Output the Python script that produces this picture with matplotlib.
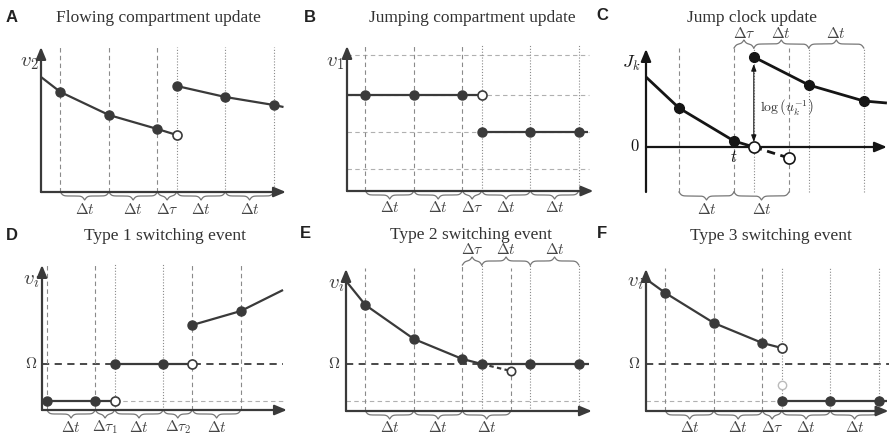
import numpy as np
import matplotlib.pyplot as plt

# ---- data (time in units of the step size, values in arbitrary units) ----
# A: flowing compartment update
A_t_before = [0.0, 0.4, 1.4, 2.4, 2.8]
A_v_before = [1.15, 1.00, 0.77, 0.63, 0.57]
A_t_after = [2.8, 3.8, 4.8, 5.0]
A_v_after = [1.06, 0.95, 0.87, 0.85]
A_dashed = [0.4, 1.4, 2.4]
A_dotted = [2.8, 3.8, 4.8]
A_steps = [0.4, 1.4, 2.4, 2.8, 3.8, 4.8]
A_labels = [r'$\Delta t$', r'$\Delta t$', r'$\Delta\tau$', r'$\Delta t$', r'$\Delta t$']

# B: jumping compartment update
B_t_before = [0.0, 0.38, 1.38, 2.38, 2.78]
B_v_before = [0.96, 0.96, 0.96, 0.96, 0.96]
B_t_after = [2.78, 3.78, 4.78, 4.97]
B_v_after = [0.59, 0.59, 0.59, 0.59]
B_levels = [1.36, 0.96, 0.59, 0.22]
B_dashed = [0.38, 1.38, 2.38]
B_dotted = [2.78, 3.78, 4.78]
B_steps = [0.38, 1.38, 2.38, 2.78, 3.78, 4.78]
B_labels = A_labels

# C: jump clock update
C_t_before = [0.0, 0.6, 1.6, 1.96]
C_v_before = [0.70, 0.39, 0.06, 0.0]
C_t_over = [1.96, 2.6]
C_v_over = [0.0, -0.11]
C_t_after = [1.96, 2.96, 3.96, 4.38]
C_v_after = [0.90, 0.62, 0.46, 0.44]
C_dashed = [0.6, 1.6, 2.6]
C_dotted = [1.96, 2.96, 3.96]
C_steps_low = [0.6, 1.6, 2.6]
C_labels_low = [r'$\Delta t$', r'$\Delta t$']
C_steps_top = [1.6, 1.96, 2.96, 3.96]
C_labels_top = [r'$\Delta\tau$', r'$\Delta t$', r'$\Delta t$']

# D: type 1 switching event
D_omega = 0.46
D_t_low = [0.1, 1.1, 1.5]
D_v_low = [0.09, 0.09, 0.09]
D_t_mid = [1.5, 2.5, 3.1]
D_v_mid = [0.46, 0.46, 0.46]
D_t_high = [3.1, 4.1, 4.97]
D_v_high = [0.85, 0.99, 1.20]
D_dashed = [0.1, 1.1, 3.1, 4.1]
D_dotted = [1.5, 2.5]
D_steps = [0.1, 1.1, 1.5, 2.5, 3.1, 4.1]
D_labels = [r'$\Delta t$', r'$\Delta\tau_1$', r'$\Delta t$', r'$\Delta\tau_2$', r'$\Delta t$']

# E: type 2 switching event
E_omega = 0.47
E_floor = 0.10
E_t_before = [0.0, 0.4, 1.4, 2.4, 2.8]
E_v_before = [1.30, 1.06, 0.72, 0.52, 0.47]
E_t_over = [2.8, 3.4]
E_v_over = [0.47, 0.40]
E_t_after = [2.8, 3.8, 4.8, 5.0]
E_v_after = [0.47, 0.47, 0.47, 0.47]
E_dashed = [0.4, 1.4, 2.4, 3.4]
E_dotted = [2.8, 3.8, 4.8]
E_steps_low = [0.4, 1.4, 2.4, 3.4]
E_labels_low = [r'$\Delta t$', r'$\Delta t$', r'$\Delta t$']
E_steps_top = [2.4, 2.8, 3.8, 4.8]
E_labels_top = [r'$\Delta\tau$', r'$\Delta t$', r'$\Delta t$']

# F: type 3 switching event
F_omega = 0.47
F_t_before = [0.0, 0.4, 1.4, 2.4, 2.8]
F_v_before = [1.32, 1.18, 0.88, 0.68, 0.63]
F_t_ghost = 2.8
F_v_ghost = 0.26
F_t_after = [2.8, 3.8, 4.8, 4.97]
F_v_after = [0.10, 0.10, 0.10, 0.10]
F_dashed = [0.4, 1.4, 2.4]
F_dotted = [2.8, 3.8, 4.8]
F_steps = [0.4, 1.4, 2.4, 2.8, 3.8, 4.8]
F_labels = A_labels

# ---- styling ----
W, H = 890, 438
DARK = '#3a3a3a'
GREY = '#8a8a8a'
LIGHT = '#b0b0b0'
DASH = (0, (4, 3))
DOT = (0, (1, 1.6))

plt.rcParams['mathtext.fontset'] = 'cm'
plt.rcParams['font.family'] = 'Liberation Serif'

fig = plt.figure(figsize=(W / 100, H / 100), dpi=100)


def panel(ox, oy, sx, xlim, ylim, sy=100):
    left = (ox + xlim[0] * sx) / W
    bottom = (H - oy + ylim[0] * sy) / H
    ax = fig.add_axes([left, bottom, (xlim[1] - xlim[0]) * sx / W,
                       (ylim[1] - ylim[0]) * sy / H])
    ax.set_xlim(xlim)
    ax.set_ylim(ylim)
    ax.axis('off')
    return ax


def ftext(px, py, s, **kw):
    fig.text(px / W, 1 - py / H, s, **kw)


def axes_arrows(ax, xend, ytop, ybot=0.0, color=DARK, lw=1.6):
    kw = dict(arrowstyle='-|>,head_length=0.6,head_width=0.25', color=color,
              lw=lw, shrinkA=0, shrinkB=0, mutation_scale=12)
    ax.annotate('', xy=(0, ytop), xytext=(0, ybot), arrowprops=kw)
    ax.annotate('', xy=(xend, 0), xytext=(0, 0), arrowprops=kw)


def vlines(ax, ts, y0, y1, ls, color=GREY):
    for t in ts:
        ax.plot([t, t], [y0, y1], color=color, lw=0.8, ls=ls)


def brace(ax, x0, x1, base, h, sx, color='#777777'):
    n = 301
    xs = np.linspace(x0, x1, n)
    half = xs[:n // 2 + 1]
    b = sx / 1.3
    yh = 1 / (1 + np.exp(-b * (half - half[0]))) + 1 / (1 + np.exp(-b * (half - half[-1])))
    ys = np.concatenate([yh, yh[-2::-1]])
    ax.plot(xs, base + (ys - 0.5) * h, color=color, lw=0.9)


def braces(ax, steps, labels, base, sx, up=False, fs=11):
    h = 0.08 if up else -0.08
    off = 0.15 if up else -0.17
    for x0, x1, lab in zip(steps[:-1], steps[1:], labels):
        brace(ax, x0, x1, base, h, sx)
        ax.text((x0 + x1) / 2, base + off, lab, ha='center', va='center',
                fontsize=fs, color='#444444')


def curve(ax, t, v, filled, hollow, color=DARK, lw=1.6, ms=6.5, ls='-'):
    ax.plot(t, v, color=color, lw=lw, ls=ls, solid_capstyle='butt')
    for i in filled:
        ax.plot(t[i], v[i], 'o', color=color, ms=ms, zorder=5)
    for i in hollow:
        ax.plot(t[i], v[i], 'o', mfc='white', mec=color, mew=1.2, ms=ms, zorder=5)


# ---- A ----
sxA = 48.5
ax = panel(41, 192, sxA, (-0.8, 5.3), (-0.3, 1.9))
vlines(ax, A_dashed, 0, 1.45, DASH)
vlines(ax, A_dotted, 0, 1.45, DOT)
axes_arrows(ax, 5.05, 1.45)
curve(ax, A_t_before, A_v_before, [1, 2, 3], [4])
curve(ax, A_t_after, A_v_after, [0, 1, 2], [])
braces(ax, A_steps, A_labels, 0, sxA)
ax.text(-0.05, 1.30, r'$v_2$', ha='right', va='center', fontsize=15, color=DARK)

# ---- B ----
ax = panel(347, 191, sxA, (-0.8, 5.3), (-0.3, 1.9))
for lv in B_levels:
    ax.plot([0, 5.0], [lv, lv], color=LIGHT, lw=0.8, ls=DASH)
vlines(ax, B_dashed, 0, 1.46, DASH)
vlines(ax, B_dotted, 0, 1.46, DOT)
axes_arrows(ax, 5.08, 1.45)
curve(ax, B_t_before, B_v_before, [1, 2, 3], [4])
curve(ax, B_t_after, B_v_after, [0, 1, 2], [])
braces(ax, B_steps, B_labels, 0, sxA)
ax.text(-0.06, 1.29, r'$v_1$', ha='right', va='center', fontsize=15, color=DARK)

# ---- C ----
sxC = 55
BLACK = '#151515'
ax = panel(646, 147, sxC, (-0.8, 4.4), (-0.8, 1.45))
vlines(ax, C_dashed, -0.45, 0.99, DASH)
vlines(ax, C_dotted, -0.45, 0.99, DOT)
axes_arrows(ax, 4.38, 0.98, ybot=-0.45, color=BLACK)
curve(ax, C_t_before, C_v_before, [1, 2], [], color=BLACK, lw=2.0, ms=7)
curve(ax, C_t_over, C_v_over, [], [0, 1], color=BLACK, lw=2.0, ms=8, ls=(0, (3, 2)))
curve(ax, C_t_after, C_v_after, [0, 1, 2], [], color=BLACK, lw=2.0, ms=7)
ax.annotate('', xy=(C_t_after[0], C_v_after[0] - 0.07), xytext=(C_t_over[0], 0.05),
            arrowprops=dict(arrowstyle='<|-|>,head_length=0.4,head_width=0.15',
                            color=BLACK, lw=0.8, shrinkA=0, shrinkB=0))
ax.text(2.57, 0.40, r'$\log\left(u_k^{-1}\right)$', ha='center', va='center',
        fontsize=10, color='#333333')
braces(ax, C_steps_low, C_labels_low, -0.45, sxC)
braces(ax, C_steps_top, C_labels_top, 0.99, sxC, up=True)
ax.text(-0.1, 0.84, r'$J_k$', ha='right', va='center', fontsize=13, color=BLACK)
ax.text(-0.12, 0.0, r'$0$', ha='right', va='center', fontsize=12, color=BLACK)
ax.text(1.6, -0.03, r'$t$', ha='center', va='top', fontsize=12, color=BLACK)

# ---- D ----
ax = panel(42, 410, sxA, (-0.8, 5.3), (-0.25, 1.95))
ax.plot([1.5, 4.97], [D_v_low[0], D_v_low[0]], color=LIGHT, lw=0.8, ls=DASH)
ax.plot([0, 4.97], [D_omega, D_omega], color=DARK, lw=1.3, ls=DASH)
vlines(ax, D_dashed, 0, 1.47, DASH)
vlines(ax, D_dotted, 0, 1.47, DOT)
axes_arrows(ax, 5.05, 1.45)
curve(ax, D_t_low, D_v_low, [0, 1], [2])
curve(ax, D_t_mid, D_v_mid, [0, 1], [2])
curve(ax, D_t_high, D_v_high, [0, 1], [])
braces(ax, D_steps, D_labels, 0, sxA)
ax.text(-0.05, 1.30, r'$v_i$', ha='right', va='center', fontsize=15, color=DARK)
ax.text(-0.1, D_omega, r'$\Omega$', ha='right', va='center', fontsize=11, color=DARK)

# ---- E ----
ax = panel(346, 411, sxA, (-0.8, 5.3), (-0.25, 1.95))
ax.plot([0, 5.0], [E_floor, E_floor], color=LIGHT, lw=0.8, ls=DASH)
ax.plot([0, 5.0], [E_omega, E_omega], color=DARK, lw=1.3, ls=DASH)
vlines(ax, [0.4, 1.4, 3.4], 0, 1.43, DASH)
vlines(ax, [2.4], 0, 1.46, DASH)
vlines(ax, E_dotted, 0, 1.46, DOT)
axes_arrows(ax, 5.07, 1.42)
curve(ax, E_t_before, E_v_before, [1, 2, 3, 4], [])
curve(ax, E_t_over, E_v_over, [], [1], ls=(0, (2, 1.5)), ms=6)
curve(ax, E_t_after, E_v_after, [1, 2], [])
braces(ax, E_steps_low, E_labels_low, 0, sxA)
braces(ax, E_steps_top, E_labels_top, 1.46, sxA, up=True)
ax.text(-0.03, 1.26, r'$v_i$', ha='right', va='center', fontsize=15, color=DARK)
ax.text(-0.12, E_omega, r'$\Omega$', ha='right', va='center', fontsize=11, color=DARK)

# ---- F ----
ax = panel(646, 411, sxA, (-0.8, 5.1), (-0.25, 1.95))
ax.plot([0, 2.8], [F_v_after[0], F_v_after[0]], color=LIGHT, lw=0.8, ls=DASH)
ax.plot([0, 5.0], [F_omega, F_omega], color=DARK, lw=1.3, ls=DASH)
vlines(ax, F_dashed, 0, 1.43, DASH)
vlines(ax, F_dotted, 0, 1.43, DOT)
axes_arrows(ax, 5.0, 1.42)
curve(ax, F_t_before, F_v_before, [1, 2, 3], [4])
ax.plot(F_t_ghost, F_v_ghost, 'o', mfc='white', mec='#bbbbbb', mew=1.0, ms=6, zorder=5)
curve(ax, F_t_after, F_v_after, [0, 1, 2], [])
braces(ax, F_steps, F_labels, 0, sxA)
ax.text(-0.05, 1.28, r'$v_i$', ha='right', va='center', fontsize=15, color=DARK)
ax.text(-0.12, F_omega, r'$\Omega$', ha='right', va='center', fontsize=11, color=DARK)

# ---- titles and panel letters ----
titles = [(158, 18, 'Flowing compartment update'), (472, 18, 'Jumping compartment update'),
          (752, 18, 'Jump clock update'), (165, 236, 'Type 1 switching event'),
          (471, 235, 'Type 2 switching event'), (771, 236, 'Type 3 switching event')]
for px, py, s in titles:
    ftext(px, py, s, ha='center', va='center', fontsize=12.5, color='#333333')
letters = [(12, 17, 'A'), (310, 17, 'B'), (602, 16, 'C'),
           (12, 235, 'D'), (305, 233, 'E'), (602, 233, 'F')]
for px, py, s in letters:
    ftext(px, py, s, ha='center', va='center', fontsize=12, fontweight='bold',
          family='Liberation Sans', color='#222222')

fig.savefig('out.png', dpi=100)
